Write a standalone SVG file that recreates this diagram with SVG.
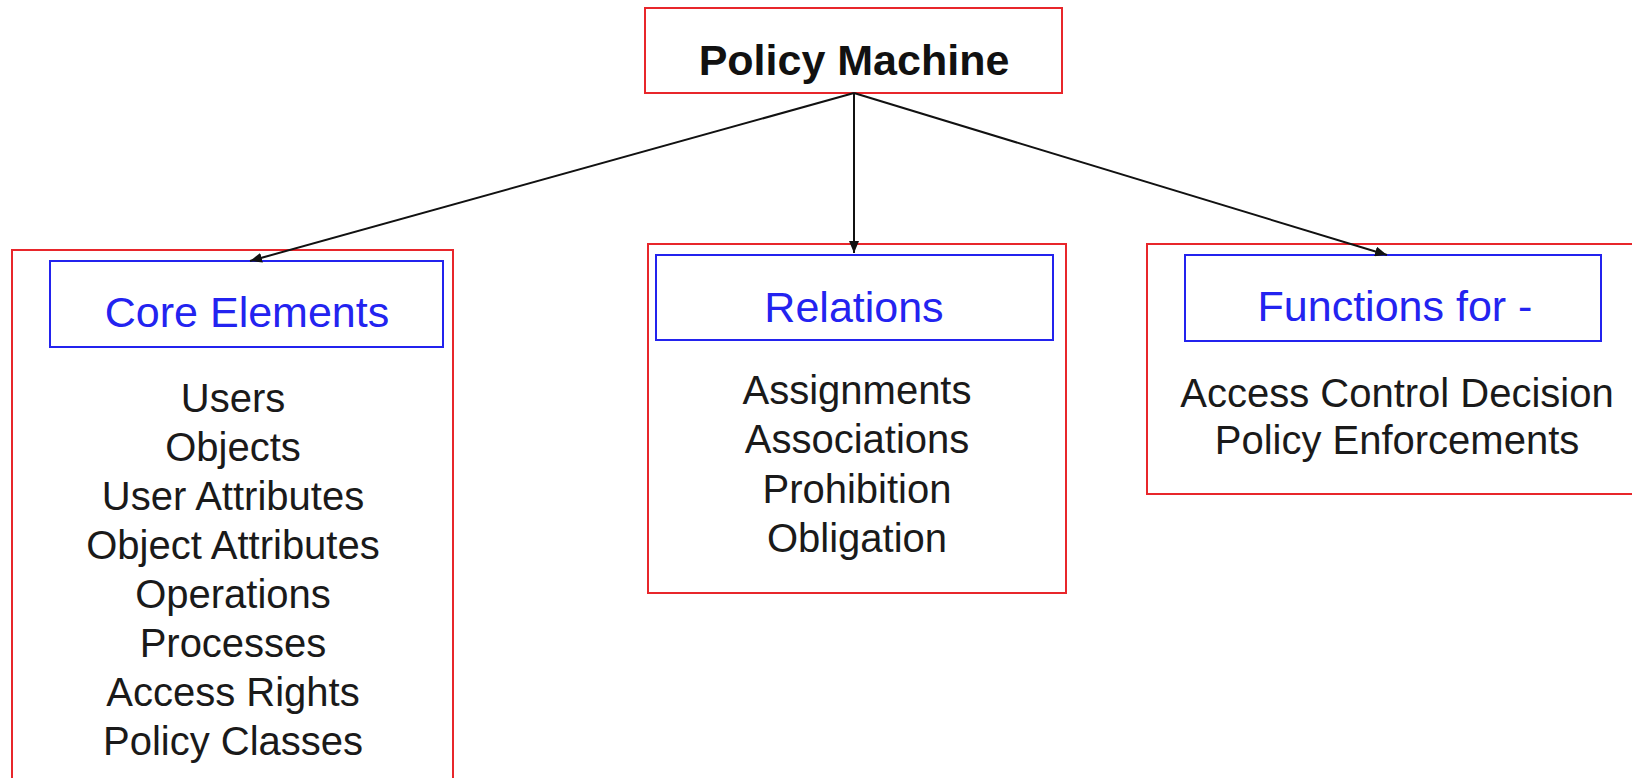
<svg xmlns="http://www.w3.org/2000/svg" width="1632" height="778" viewBox="0 0 1632 778">
<style>
.outer{fill:#fff;stroke:#e8262b;stroke-width:2}
.inner{fill:#fff;stroke:#2323ee;stroke-width:2}
.title{font-family:"Liberation Sans",Arial,sans-serif;font-size:43px;font-weight:bold;fill:#111;text-anchor:middle}
.head{font-family:"Liberation Sans",Arial,sans-serif;font-size:43px;fill:#2323f0;text-anchor:middle}
.item{font-family:"Liberation Sans",Arial,sans-serif;font-size:40px;fill:#1a1a1a;text-anchor:middle}
.edge{stroke:#111;stroke-width:2;fill:none;marker-end:url(#ah)}
</style>
<defs>
<marker id="ah" viewBox="0 0 12 10" refX="12" refY="5" markerWidth="12" markerHeight="10" markerUnits="userSpaceOnUse" orient="auto">
<path d="M0,0 L12,5 L0,10 z" fill="#111"/>
</marker>
</defs>
<rect width="1632" height="778" fill="#fff"/>
<g id="policy-machine">
<rect class="outer" x="645" y="8" width="417" height="85"/>
<text class="title" x="854" y="75">Policy Machine</text>
</g>
<g id="core-elements">
<rect class="outer" x="12" y="250" width="441" height="540"/>
<rect class="inner" x="50" y="261" width="393" height="86"/>
<text class="head" x="247" y="327">Core Elements</text>
<text class="item" x="233" y="412">Users</text>
<text class="item" x="233" y="461">Objects</text>
<text class="item" x="233" y="510">User Attributes</text>
<text class="item" x="233" y="559">Object Attributes</text>
<text class="item" x="233" y="608">Operations</text>
<text class="item" x="233" y="657">Processes</text>
<text class="item" x="233" y="706">Access Rights</text>
<text class="item" x="233" y="755">Policy Classes</text>
</g>
<g id="relations">
<rect class="outer" x="648" y="244" width="418" height="349"/>
<rect class="inner" x="656" y="255" width="397" height="85"/>
<text class="head" x="854" y="322">Relations</text>
<text class="item" x="857" y="404">Assignments</text>
<text class="item" x="857" y="453">Associations</text>
<text class="item" x="857" y="503">Prohibition</text>
<text class="item" x="857" y="552">Obligation</text>
</g>
<g id="functions">
<rect class="outer" x="1147" y="244" width="500" height="250"/>
<rect class="inner" x="1185" y="255" width="416" height="86"/>
<text class="head" x="1395" y="321">Functions for -</text>
<text class="item" x="1397" y="407">Access Control Decision</text>
<text class="item" x="1397" y="454">Policy Enforcements</text>
</g>
<g id="connectors">
<line class="edge" x1="854" y1="93" x2="250" y2="261"/>
<line class="edge" x1="854" y1="93" x2="854" y2="253"/>
<line class="edge" x1="854" y1="93" x2="1387" y2="255"/>
</g>
</svg>
